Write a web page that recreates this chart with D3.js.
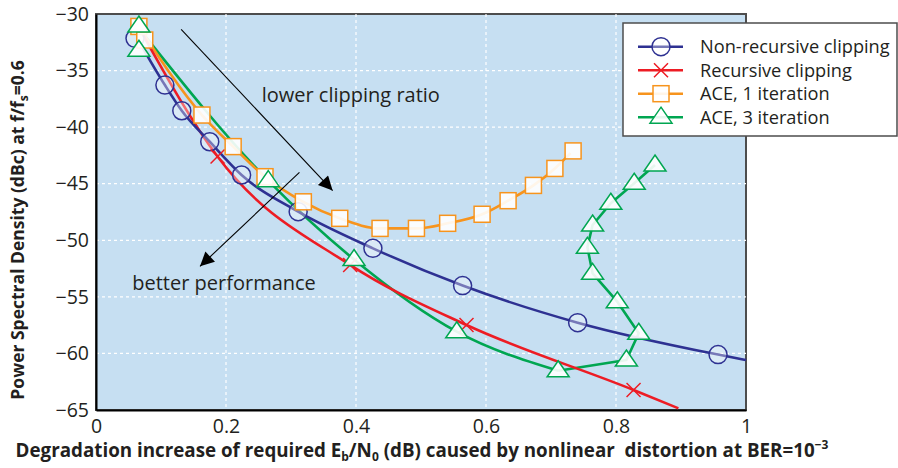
<!DOCTYPE html>
<html>
<head>
<meta charset="utf-8">
<script src="https://cdn.jsdelivr.net/npm/d3@7"></script>
<style>
  body { margin: 0; background: #fff; }
  text { font-family: "Open Sans", sans-serif; fill: #231f20; }
</style>
</head>
<body>
<div id="chart"><svg></svg></div>
<script>
// tick values
var xTicks = [0, 0.2, 0.4, 0.6, 0.8, 1];
var yTicks = [-30, -35, -40, -45, -50, -55, -60, -65];

// Non-recursive clipping (circles); line runs on to x=1
var nonRecMarkX = [0.06, 0.106, 0.132, 0.175, 0.224, 0.311, 0.426, 0.564, 0.741, 0.957];
var nonRecMarkY = [-32.15, -36.28, -38.55, -41.29, -44.23, -47.47, -50.71, -54.0, -57.28, -60.1];
var nonRecLineX = [0.065, 0.106, 0.132, 0.175, 0.224, 0.311, 0.426, 0.564, 0.741, 0.957, 1.0];
var nonRecLineY = [-32.3, -36.28, -38.55, -41.29, -44.23, -47.47, -50.71, -54.0, -57.28, -60.1, -60.58];

// Recursive clipping (crosses)
var recMarkX = [0.187, 0.391, 0.570, 0.827];
var recMarkY = [-42.6, -52.18, -57.49, -63.23];
var recLineX = [0.068, 0.187, 0.391, 0.570, 0.827, 0.896];
var recLineY = [-31.4, -42.6, -52.18, -57.49, -63.23, -64.85];

// ACE, 1 iteration (squares)
var ace1X = [0.066, 0.075, 0.163, 0.211, 0.26, 0.319, 0.375, 0.437, 0.493, 0.541, 0.594, 0.634, 0.673, 0.706, 0.734];
var ace1Y = [-31.1, -32.3, -38.93, -41.72, -44.38, -46.6, -48.06, -48.95, -48.95, -48.5, -47.7, -46.5, -45.15, -43.65, -42.1];
var ace1LineX = [0.068, 0.163, 0.211, 0.26, 0.319, 0.375, 0.437, 0.493, 0.541, 0.594, 0.634, 0.673, 0.706, 0.73];
var ace1LineY = [-31.3, -38.93, -41.72, -44.38, -46.6, -48.06, -48.95, -48.95, -48.5, -47.7, -46.5, -45.15, -43.65, -42.3];

// ACE, 3 iteration (triangles)
var ace3X = [0.066, 0.066, 0.265, 0.397, 0.555, 0.711, 0.816, 0.835, 0.802, 0.764, 0.756, 0.764, 0.792, 0.828, 0.860];
var ace3Y = [-31.06, -33.2, -44.73, -51.7, -58.08, -61.53, -60.58, -58.22, -55.43, -52.92, -50.62, -48.65, -46.73, -44.96, -43.35];
var ace3LineX = [0.068, 0.265, 0.397, 0.555, 0.711, 0.816, 0.835, 0.802, 0.764, 0.756, 0.764, 0.792, 0.828, 0.860];
var ace3LineY = [-31.4, -44.73, -51.7, -58.08, -61.53, -60.58, -58.22, -55.43, -52.92, -50.62, -48.65, -46.73, -44.96, -43.35];
var ace3SmoothEnd = 4; // index where the green curve turns into straight segments

var seriesNames = ["Non-recursive clipping", "Recursive clipping", "ACE, 1 iteration", "ACE, 3 iteration"];
var seriesColors = ["#2e3192", "#ed1c24", "#f7941d", "#00a651"];

function zip(xs, ys) {
    return xs.map(function (x, i) { return {x: x, y: ys[i]}; });
}

// set the dimensions and margins of the graph
var margin = {top: 14, right: 152, bottom: 58, left: 96},
    width = 898 - margin.left - margin.right,
    height = 468 - margin.top - margin.bottom;

var x = d3.scaleLinear().domain([0, 1]).range([0, width]);
var y = d3.scaleLinear().domain([-65, -30]).range([height, 0]);

var root = d3.select("#chart").select("svg")
    .attr("width", 898)
    .attr("height", 468);

var svg = root.append("g")
    .attr("transform", "translate(" + margin.left + "," + margin.top + ")");

// plot background + frame
svg.append("rect")
    .attr("width", width)
    .attr("height", height)
    .attr("fill", "#c6dff2")
    .attr("stroke", "#4d4d4d")
    .attr("stroke-width", 2);

// grid
svg.append("g")
    .selectAll("line")
    .data(xTicks.slice(1, -1))
    .join("line")
    .attr("x1", function (d) { return x(d); })
    .attr("x2", function (d) { return x(d); })
    .attr("y1", 0)
    .attr("y2", height)
    .attr("stroke", "#fff")
    .attr("stroke-width", 1.2)
    .attr("stroke-dasharray", "3,3");

svg.append("g")
    .selectAll("line")
    .data(yTicks.slice(1, -1))
    .join("line")
    .attr("x1", 0)
    .attr("x2", width)
    .attr("y1", function (d) { return y(d); })
    .attr("y2", function (d) { return y(d); })
    .attr("stroke", "#fff")
    .attr("stroke-width", 1.2)
    .attr("stroke-dasharray", "3,3");

// axes
var xAxis = svg.append("g")
    .attr("transform", "translate(0," + height + ")")
    .call(d3.axisBottom(x).tickValues(xTicks).tickFormat(d3.format("~g")).tickSize(0).tickPadding(9));
var yAxis = svg.append("g")
    .call(d3.axisLeft(y).tickValues(yTicks).tickSize(0).tickPadding(7));

[xAxis, yAxis].forEach(function (a) {
    a.select(".domain").attr("stroke", "#000").attr("stroke-width", 2);
    a.selectAll("text")
        .attr("font-family", "'Open Sans', sans-serif")
        .attr("font-size", 19.5)
        .attr("fill", "#231f20");
});

// lines
var smooth = d3.line()
    .x(function (d) { return x(d.x); })
    .y(function (d) { return y(d.y); })
    .curve(d3.curveMonotoneX);

var straight = d3.line()
    .x(function (d) { return x(d.x); })
    .y(function (d) { return y(d.y); });

var lineGroup = svg.append("g").attr("fill", "none").attr("stroke-width", 2.6)
    .attr("stroke-linejoin", "round");

var ace3Line = zip(ace3LineX, ace3LineY);
lineGroup.append("path")
    .datum(ace3Line.slice(0, ace3SmoothEnd + 1))
    .attr("stroke", seriesColors[3])
    .attr("d", smooth);
lineGroup.append("path")
    .datum(ace3Line.slice(ace3SmoothEnd))
    .attr("stroke", seriesColors[3])
    .attr("d", straight);
lineGroup.append("path")
    .datum(zip(ace1LineX, ace1LineY))
    .attr("stroke", seriesColors[2])
    .attr("d", smooth);
lineGroup.append("path")
    .datum(zip(recLineX, recLineY))
    .attr("stroke", seriesColors[1])
    .attr("d", smooth);
lineGroup.append("path")
    .datum(zip(nonRecLineX, nonRecLineY))
    .attr("stroke", seriesColors[0])
    .attr("d", smooth);

// marker drawing helpers
function circleMark(g, cx, cy) {
    g.append("circle")
        .attr("cx", cx).attr("cy", cy).attr("r", 9)
        .attr("fill", "#fff").attr("fill-opacity", 0.35)
        .attr("stroke", seriesColors[0]).attr("stroke-width", 1.5);
}
function crossMark(g, cx, cy) {
    g.append("path")
        .attr("d", "M" + (cx - 7) + "," + (cy - 7) + "L" + (cx + 7) + "," + (cy + 7) +
            "M" + (cx - 7) + "," + (cy + 7) + "L" + (cx + 7) + "," + (cy - 7))
        .attr("stroke", seriesColors[1]).attr("stroke-width", 1.5);
}
function squareMark(g, cx, cy) {
    g.append("rect")
        .attr("x", cx - 8).attr("y", cy - 8).attr("width", 16).attr("height", 16)
        .attr("fill", "#fff").attr("fill-opacity", 0.9)
        .attr("stroke", seriesColors[2]).attr("stroke-width", 1.5);
}
function triMark(g, cx, cy) {
    g.append("path")
        .attr("d", "M" + cx + "," + (cy - 10) + "L" + (cx + 11) + "," + (cy + 6) + "L" + (cx - 11) + "," + (cy + 6) + "Z")
        .attr("fill", "#fff").attr("fill-opacity", 0.9)
        .attr("stroke", seriesColors[3]).attr("stroke-width", 1.5);
}

var marks = svg.append("g");
zip(nonRecMarkX, nonRecMarkY).forEach(function (d) { circleMark(marks, x(d.x), y(d.y)); });
zip(recMarkX, recMarkY).forEach(function (d) { crossMark(marks, x(d.x), y(d.y)); });
zip(ace1X, ace1Y).forEach(function (d) { squareMark(marks, x(d.x), y(d.y)); });
zip(ace3X, ace3Y).forEach(function (d) { triMark(marks, x(d.x), y(d.y)); });

// annotations (arrows + text), placed in data space
var defs = root.append("defs");
defs.append("marker")
    .attr("id", "arrowhead")
    .attr("viewBox", "0 0 10 10")
    .attr("refX", 10).attr("refY", 5)
    .attr("markerWidth", 18).attr("markerHeight", 14)
    .attr("markerUnits", "userSpaceOnUse")
    .attr("orient", "auto")
    .append("path")
    .attr("d", "M0,0L10,5L0,10Z")
    .attr("fill", "#000");

var arrows = [
    {x1: 0.131, y1: -31.35, x2: 0.364, y2: -45.6},
    {x1: 0.313, y1: -44.0, x2: 0.16, y2: -52.3}
];
svg.append("g")
    .selectAll("line")
    .data(arrows)
    .join("line")
    .attr("x1", function (d) { return x(d.x1); })
    .attr("y1", function (d) { return y(d.y1); })
    .attr("x2", function (d) { return x(d.x2); })
    .attr("y2", function (d) { return y(d.y2); })
    .attr("stroke", "#000")
    .attr("stroke-width", 1.1)
    .attr("marker-end", "url(#arrowhead)");

var notes = [
    {x: 0.392, y: -37.2, text: "lower clipping ratio"},
    {x: 0.197, y: -53.8, text: "better performance"}
];
svg.append("g")
    .selectAll("text")
    .data(notes)
    .join("text")
    .attr("x", function (d) { return x(d.x); })
    .attr("y", function (d) { return y(d.y); })
    .attr("dy", "0.35em")
    .attr("text-anchor", "middle")
    .attr("font-size", 20)
    .text(function (d) { return d.text; });

// legend
var legend = root.append("g").attr("transform", "translate(623,23)");
legend.append("rect")
    .attr("width", 274)
    .attr("height", 113)
    .attr("fill", "#fff")
    .attr("stroke", "#4d4d4d")
    .attr("stroke-width", 1.5);

var markFns = [circleMark, crossMark, squareMark, triMark];
seriesNames.forEach(function (name, i) {
    var ry = 23.7 + i * 23.5;
    legend.append("line")
        .attr("x1", 15).attr("x2", 60)
        .attr("y1", ry).attr("y2", ry)
        .attr("stroke", seriesColors[i])
        .attr("stroke-width", 2.6);
    markFns[i](legend, 38, ry);
    legend.append("text")
        .attr("x", 77)
        .attr("y", ry)
        .attr("dy", "0.35em")
        .attr("font-size", 18.2)
        .text(name);
});

// axis titles
var xTitle = root.append("text")
    .attr("x", margin.left + width / 2 + 1)
    .attr("y", 457)
    .attr("text-anchor", "middle")
    .attr("font-weight", "bold")
    .attr("font-size", 18.8)
    .style("white-space", "pre");
xTitle.append("tspan").text("Degradation increase of required E");
xTitle.append("tspan").attr("font-size", 12).attr("dy", 4).text("b");
xTitle.append("tspan").attr("dy", -4).text("/N");
xTitle.append("tspan").attr("font-size", 12).attr("dy", 4).text("0");
xTitle.append("tspan").attr("dy", -4).text(" (dB) caused by nonlinear  distortion at BER=10");
xTitle.append("tspan").attr("font-size", 12).attr("dy", -8).text("\u22123");

var yTitle = root.append("text")
    .attr("transform", "translate(24," + (margin.top + height / 2 + 18) + ") rotate(-90)")
    .attr("text-anchor", "middle")
    .attr("font-weight", "bold")
    .attr("font-size", 17.5);
yTitle.append("tspan").text("Power Spectral Density (dBc) at f/f");
yTitle.append("tspan").attr("font-size", 12).attr("dy", 4).text("s");
yTitle.append("tspan").attr("dy", -4).text("=0.6");
</script>
</body>
</html>
